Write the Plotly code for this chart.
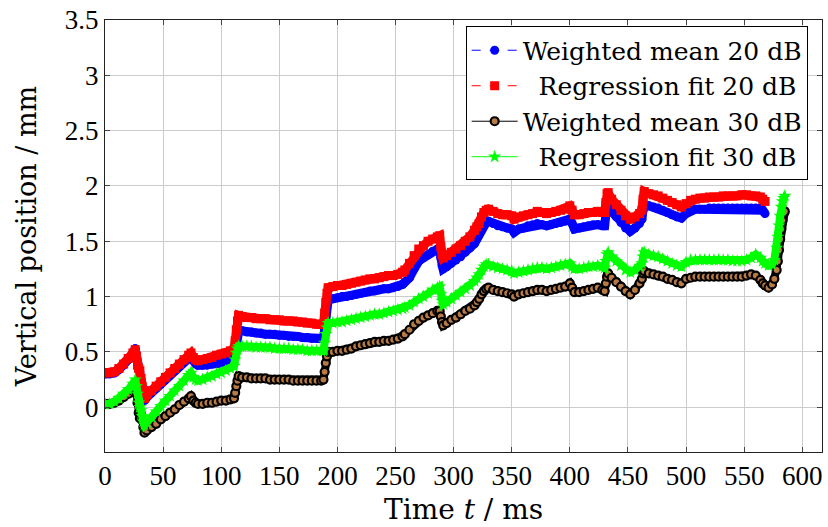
import plotly.graph_objects as go

# Time grid (ms) shared by all four series up to 568 ms
t = [0, 4, 8, 12, 16, 20, 24, 26,
     27, 28, 29, 30, 31, 32, 33, 34,
     36, 40, 44, 48, 52, 56, 60, 64, 68, 72, 74,
     76, 78, 80, 84, 88, 92, 96, 100, 104, 108, 111,
     112, 113, 114, 115,
     118, 122, 126, 130, 134, 138, 142, 146, 150, 154, 158, 162, 166, 170, 174, 178, 182, 186, 188,
     189, 190, 191, 192,
     196, 200, 204, 208, 212, 216, 220, 224, 228, 232, 236, 240, 244, 248, 252, 256, 258,
     262, 266, 270, 274, 278, 282, 286, 288, 289, 290, 291,
     294, 298, 302, 306, 310, 314, 318, 320, 322, 324, 326, 328, 330, 334,
     338, 342, 346, 350, 352, 356, 360, 364, 368, 372, 376, 380, 384, 388, 392, 396, 400,
     402, 404, 408, 412, 416, 420, 424, 428, 430, 431, 432, 433,
     436, 440, 444, 448, 452, 456, 460, 462, 463, 464,
     468, 472, 476, 480, 484, 488, 492, 496, 500, 504, 508, 512, 516, 520, 524, 528, 532, 536,
     540, 544, 548, 552, 556, 560, 564, 566, 568]

wm20 = [0.30, 0.30, 0.31, 0.34, 0.38, 0.43, 0.49, 0.53,
        0.47, 0.38, 0.34, 0.32, 0.25, 0.18, 0.11, 0.06,
        0.09, 0.13, 0.17, 0.21, 0.25, 0.29, 0.33, 0.37, 0.41, 0.45, 0.46,
        0.42, 0.39, 0.38, 0.38, 0.38, 0.39, 0.40, 0.40, 0.41, 0.42, 0.43,
        0.50, 0.58, 0.64, 0.68,
        0.69, 0.68, 0.68, 0.67, 0.67, 0.66, 0.66, 0.66, 0.65, 0.65, 0.64, 0.64, 0.64, 0.63, 0.63, 0.62, 0.62, 0.62, 0.62,
        0.70, 0.82, 0.92, 0.97,
        0.98, 0.99, 1.00, 1.00, 1.01, 1.02, 1.03, 1.04, 1.05, 1.05, 1.06, 1.07, 1.07, 1.08, 1.09, 1.11, 1.13,
        1.17, 1.25, 1.32, 1.35, 1.38, 1.41, 1.43, 1.44, 1.35, 1.28, 1.25,
        1.27, 1.30, 1.33, 1.36, 1.40, 1.44, 1.48, 1.52, 1.56, 1.61, 1.65, 1.67, 1.68, 1.66,
        1.64, 1.63, 1.62, 1.61, 1.58, 1.61, 1.62, 1.64, 1.65, 1.66, 1.65, 1.64, 1.65, 1.66, 1.67, 1.68, 1.70,
        1.66, 1.61, 1.62, 1.63, 1.64, 1.65, 1.65, 1.64, 1.64, 1.74, 1.81, 1.82,
        1.77, 1.72, 1.67, 1.62, 1.59, 1.62, 1.66, 1.70, 1.78, 1.83,
        1.82, 1.81, 1.80, 1.78, 1.76, 1.74, 1.72, 1.71, 1.75, 1.78, 1.79, 1.79, 1.79, 1.80, 1.80, 1.80, 1.80, 1.80,
        1.80, 1.80, 1.80, 1.80, 1.80, 1.80, 1.80, 1.78, 1.75]

rf20 = [0.31, 0.31, 0.32, 0.35, 0.39, 0.44, 0.49, 0.52,
        0.46, 0.38, 0.35, 0.33, 0.26, 0.19, 0.13, 0.08,
        0.11, 0.15, 0.19, 0.23, 0.27, 0.31, 0.35, 0.39, 0.43, 0.47, 0.49,
        0.45, 0.43, 0.42, 0.43, 0.44, 0.45, 0.47, 0.48, 0.49, 0.51, 0.52,
        0.60, 0.70, 0.78, 0.83,
        0.82, 0.81, 0.81, 0.80, 0.80, 0.80, 0.79, 0.79, 0.79, 0.78, 0.78, 0.78, 0.77, 0.77, 0.76, 0.76, 0.75, 0.75, 0.75,
        0.85, 0.95, 1.03, 1.08,
        1.09, 1.10, 1.10, 1.11, 1.12, 1.13, 1.14, 1.15, 1.16, 1.16, 1.17, 1.18, 1.19, 1.19, 1.20, 1.22, 1.24,
        1.30, 1.37, 1.43, 1.46, 1.50, 1.52, 1.54, 1.55, 1.45, 1.38, 1.35,
        1.37, 1.40, 1.43, 1.46, 1.50, 1.54, 1.60, 1.63, 1.66, 1.72, 1.76, 1.78, 1.79, 1.77,
        1.75, 1.74, 1.74, 1.73, 1.70, 1.72, 1.73, 1.74, 1.75, 1.77, 1.76, 1.75, 1.76, 1.77, 1.78, 1.79, 1.82,
        1.78, 1.74, 1.74, 1.75, 1.76, 1.76, 1.77, 1.76, 1.76, 1.85, 1.93, 1.94,
        1.88, 1.83, 1.78, 1.73, 1.70, 1.72, 1.75, 1.78, 1.88, 1.95,
        1.93, 1.92, 1.91, 1.89, 1.87, 1.85, 1.83, 1.81, 1.84, 1.87, 1.88, 1.89, 1.89, 1.90, 1.90, 1.90, 1.91, 1.91,
        1.91, 1.91, 1.92, 1.92, 1.91, 1.91, 1.90, 1.88, 1.86]

wm30 = [0.03, 0.03, 0.04, 0.06, 0.09, 0.12, 0.15, 0.17,
        0.12, 0.04, -0.05, -0.10, -0.06, -0.12, -0.18, -0.23,
        -0.21, -0.18, -0.15, -0.11, -0.08, -0.05, -0.02, 0.02, 0.05, 0.08, 0.10,
        0.06, 0.04, 0.03, 0.03, 0.04, 0.04, 0.05, 0.06, 0.06, 0.07, 0.08,
        0.13, 0.19, 0.24, 0.28,
        0.27, 0.27, 0.26, 0.26, 0.26, 0.26, 0.25, 0.25, 0.25, 0.25, 0.25, 0.24, 0.24, 0.24, 0.24, 0.24, 0.24, 0.24, 0.25,
        0.32, 0.40, 0.46, 0.50,
        0.50, 0.51, 0.51, 0.52, 0.53, 0.55, 0.56, 0.57, 0.58, 0.59, 0.59, 0.60, 0.60, 0.61, 0.62, 0.64, 0.66,
        0.70, 0.75, 0.78, 0.81, 0.83, 0.85, 0.87, 0.87, 0.82, 0.77, 0.74,
        0.76, 0.79, 0.81, 0.84, 0.87, 0.89, 0.92, 0.95, 0.98, 1.02, 1.05, 1.07, 1.08, 1.06,
        1.05, 1.04, 1.03, 1.02, 1.00, 1.02, 1.03, 1.04, 1.05, 1.06, 1.06, 1.05, 1.06, 1.07, 1.08, 1.09, 1.12,
        1.08, 1.04, 1.04, 1.05, 1.06, 1.07, 1.08, 1.06, 1.05, 1.12, 1.18, 1.21,
        1.17, 1.13, 1.09, 1.05, 1.02, 1.06, 1.12, 1.16, 1.21, 1.23,
        1.21, 1.20, 1.19, 1.18, 1.16, 1.15, 1.13, 1.12, 1.16, 1.17, 1.18, 1.18, 1.18, 1.18, 1.18, 1.18, 1.18, 1.18,
        1.18, 1.18, 1.18, 1.19, 1.20, 1.19, 1.15, 1.12, 1.10]

rf30 = [0.03, 0.03, 0.05, 0.08, 0.12, 0.16, 0.21, 0.25,
        0.19, 0.12, 0.04, 0.00, -0.03, -0.08, -0.13, -0.16,
        -0.14, -0.09, -0.04, 0.01, 0.06, 0.10, 0.15, 0.19, 0.24, 0.29, 0.31,
        0.27, 0.25, 0.24, 0.25, 0.27, 0.28, 0.30, 0.31, 0.33, 0.35, 0.37,
        0.43, 0.49, 0.53, 0.55,
        0.55, 0.55, 0.55, 0.54, 0.54, 0.54, 0.54, 0.53, 0.53, 0.53, 0.53, 0.52, 0.52, 0.52, 0.51, 0.51, 0.51, 0.51, 0.51,
        0.58, 0.66, 0.72, 0.76,
        0.76, 0.77, 0.77, 0.78, 0.79, 0.80, 0.81, 0.82, 0.83, 0.84, 0.84, 0.85, 0.86, 0.87, 0.88, 0.89, 0.90,
        0.92, 0.95, 0.98, 1.00, 1.03, 1.06, 1.08, 1.09, 1.02, 0.96, 0.93,
        0.95, 0.98, 1.01, 1.04, 1.07, 1.10, 1.14, 1.17, 1.20, 1.24, 1.27, 1.29, 1.29, 1.27,
        1.26, 1.25, 1.24, 1.23, 1.21, 1.22, 1.23, 1.24, 1.25, 1.26, 1.26, 1.25, 1.26, 1.27, 1.28, 1.29, 1.30,
        1.27, 1.25, 1.25, 1.26, 1.27, 1.27, 1.28, 1.27, 1.26, 1.32, 1.38, 1.40,
        1.36, 1.32, 1.28, 1.24, 1.22, 1.24, 1.27, 1.30, 1.36, 1.40,
        1.38, 1.37, 1.36, 1.34, 1.32, 1.30, 1.28, 1.27, 1.31, 1.33, 1.33, 1.33, 1.33, 1.33, 1.33, 1.33, 1.33, 1.33,
        1.32, 1.32, 1.32, 1.33, 1.35, 1.38, 1.35, 1.32, 1.30]

# 30 dB series continue past the end of the 20 dB series
t30_tail = [571, 574, 576, 578, 579, 580, 581, 582, 583, 584, 585]
wm30_tail = [1.08, 1.11, 1.16, 1.24, 1.32, 1.42, 1.52, 1.61, 1.69, 1.75, 1.77]
rf30_tail = [1.28, 1.29, 1.33, 1.44, 1.54, 1.64, 1.73, 1.81, 1.86, 1.89, 1.91]

x_ticks = list(range(0, 601, 50))
y_ticks = [0, 0.5, 1, 1.5, 2, 2.5, 3, 3.5]
y_tick_text = ["0", "0.5", "1", "1.5", "2", "2.5", "3", "3.5"]

NB = "\u00a0"
names = ["Weighted mean 20 dB", NB * 2 + "Regression fit 20 dB",
         "Weighted mean 30 dB", NB * 2 + "Regression fit 30 dB"]
x_title = "Time <i>t</i> / ms"
y_title = "Vertical position / mm"

t30 = t + t30_tail
series = [
    (t, wm20, names[0], "#0000ff", "dash",
     dict(symbol="circle", size=9, color="#0000ff", line=dict(width=0)), "#0000ff", 9),
    (t, rf20, names[1], "#ff0000", "dash",
     dict(symbol="square", size=9, color="#ff0000", line=dict(width=0)), "#ff0000", 9),
    (t30, wm30 + wm30_tail, names[2], "#000000", "solid",
     dict(symbol="circle", size=8, color="#b87a45", line=dict(width=2.2, color="#000000")), "#000000", 8),
    (t30, rf30 + rf30_tail, names[3], "#00ff00", "solid",
     dict(symbol="star", size=10, color="#00ff00", line=dict(width=0)), "#00ff00", 8),
]

fig = go.Figure()
for xs, ys, nm, col, dash, mk, bandcol, bandw in series:
    # dense band (the original marks overlap into a continuous band)
    fig.add_trace(go.Scatter(x=xs, y=ys, mode="lines", showlegend=False, hoverinfo="skip",
                             line=dict(color=bandcol, width=bandw)))
    fig.add_trace(go.Scatter(x=xs, y=ys, name=nm, mode="lines+markers",
                             line=dict(color=col, width=1, dash=dash), marker=mk))

axis_font = dict(family="Liberation Serif", size=27, color="black")
fig.update_layout(
    width=828, height=527,
    margin=dict(l=105, r=6, t=20, b=75),
    paper_bgcolor="white", plot_bgcolor="white",
    showlegend=True,
    legend=dict(
        x=0.98, y=0.985, xanchor="right", yanchor="top",
        bgcolor="white", bordercolor="black", borderwidth=1,
        font=dict(family="DejaVu Serif", size=25, color="black"),
        itemwidth=46, tracegroupgap=0),
    xaxis=dict(
        range=[0, 617], tickmode="array", tickvals=x_ticks,
        ticks="inside", ticklen=5, tickcolor="#444", mirror="ticks",
        showline=True, linecolor="#222", linewidth=1,
        showgrid=True, gridcolor="#cccccc", gridwidth=1, zeroline=False,
        tickfont=axis_font, automargin=False),
    yaxis=dict(
        range=[-0.405, 3.5], tickmode="array", tickvals=y_ticks, ticktext=y_tick_text,
        ticks="inside", ticklen=5, tickcolor="#444", mirror="ticks",
        showline=True, linecolor="#222", linewidth=1,
        showgrid=True, gridcolor="#cccccc", gridwidth=1, zeroline=False,
        tickfont=axis_font,
        title=dict(text=y_title, standoff=20,
                   font=dict(family="DejaVu Serif", size=27, color="black")),
        automargin=False),
    annotations=[dict(text=x_title, xref="paper", yref="paper", x=0.5, y=-0.134,
                      xanchor="center", yanchor="middle", showarrow=False,
                      font=dict(family="DejaVu Serif", size=28, color="black"))],
)

fig.write_html("out.html")
